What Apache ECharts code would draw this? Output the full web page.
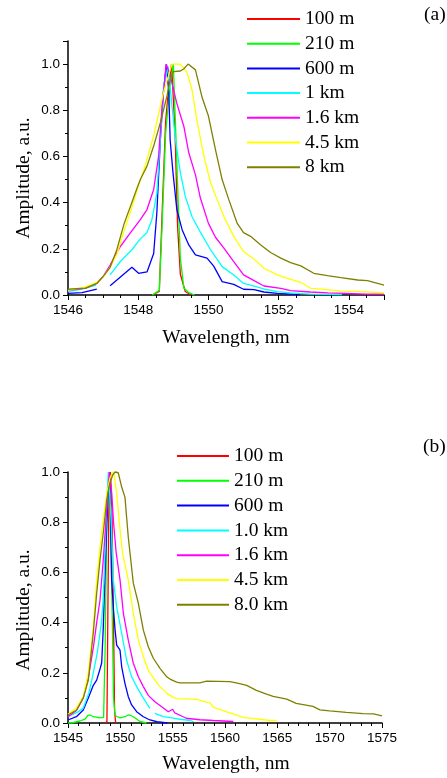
<!DOCTYPE html>
<html>
<head>
<meta charset="utf-8">
<script src="https://cdn.jsdelivr.net/npm/echarts@6/dist/echarts.min.js"></script>
<style>html,body{margin:0;padding:0;background:#fff;}#c{width:447px;height:778px;}</style>
</head>
<body>
<div id="c"></div>
<script>
// ---------- Panel (a) ----------
const aNames = ['100 m','210 m','600 m','1 km','1.6 km','4.5 km','8 km'];
const a_x_100m = [1548.4,1548.6,1548.68,1548.78,1548.88,1548.95,1549.05,1549.12,1549.2,1549.34,1549.5];
const a_y_100m = [0,0.015,0.35,0.75,0.92,1.0,0.7,0.3,0.09,0.015,0];
const a_x_210m = [1548.4,1548.6,1548.68,1548.78,1548.9,1549.0,1549.07,1549.14,1549.2,1549.3,1549.44,1549.6];
const a_y_210m = [0,0.02,0.3,0.7,0.9,1.0,0.7,0.4,0.16,0.03,0.01,0];
const a_x_600m = [1546,1546.4,1546.82,1547.0,1547.2,1547.82,1548.01,1548.25,1548.44,1548.53,1548.63,1548.72,1548.8,1548.87,1548.91,1548.99,1549.1,1549.25,1549.44,1549.63,1549.96,1550.15,1550.39,1550.72,1551.0,1551.3,1551.58,1551.96,1552.34,1552.6];
const a_y_600m = [0.007,0.01,0.025,null,0.04,0.12,0.094,0.1,0.18,0.355,0.67,0.88,1.0,0.88,0.67,0.53,0.37,0.283,0.217,0.174,0.16,0.125,0.058,0.046,0.025,0.023,0.013,0.007,0.004,0.002];
const a_x_1km = [1546,1546.4,1546.8,1547.0,1547.2,1547.49,1547.82,1548.06,1548.25,1548.39,1548.53,1548.63,1548.72,1548.85,1548.96,1549.06,1549.2,1549.34,1549.53,1549.77,1550.06,1550.39,1550.72,1551.0,1551.3,1551.58,1551.96,1552.34,1552.9,1553.8];
const a_y_1km = [0.015,0.025,0.043,null,0.087,0.145,0.196,0.243,0.271,0.326,0.44,0.674,0.9,0.99,0.82,0.674,0.53,0.427,0.34,0.272,0.196,0.123,0.087,0.05,0.038,0.026,0.015,0.009,0.004,0.002];
const a_x_16km = [1546,1546.5,1546.82,1547.0,1547.2,1547.49,1547.77,1548.06,1548.25,1548.44,1548.58,1548.68,1548.8,1548.91,1549.1,1549.3,1549.44,1549.63,1549.77,1550.0,1550.2,1550.44,1550.72,1551.0,1551.3,1551.58,1552.06,1552.34,1552.9,1553.4,1553.9,1554.5,1555];
const a_y_16km = [0.02,0.03,0.05,0.08,0.13,0.21,0.268,0.326,0.37,0.457,0.6,0.82,1.0,0.95,0.83,0.73,0.616,0.52,0.42,0.31,0.25,0.203,0.145,0.087,0.062,0.039,0.029,0.019,0.013,0.009,0.007,0.004,0.004];
const a_x_45km = [1546,1546.5,1546.9,1547.2,1547.4,1547.6,1547.8,1548.0,1548.2,1548.44,1548.72,1548.96,1549.2,1549.39,1549.53,1549.68,1549.87,1550.06,1550.25,1550.44,1550.72,1551.0,1551.3,1551.58,1551.96,1552.34,1552.63,1552.91,1553.3,1553.77,1554.4,1555];
const a_y_45km = [0.02,0.035,0.06,0.12,0.18,0.28,0.37,0.47,0.56,0.69,0.877,1.0,1.0,0.964,0.89,0.75,0.6,0.486,0.413,0.34,0.254,0.188,0.155,0.116,0.087,0.068,0.055,0.029,0.024,0.017,0.015,0.009];
const a_x_8km = [1546,1546.5,1546.82,1547.0,1547.2,1547.39,1547.6,1547.77,1547.96,1548.06,1548.25,1548.44,1548.63,1548.82,1548.91,1549.0,1549.2,1549.3,1549.42,1549.63,1549.82,1550.0,1550.2,1550.39,1550.58,1550.82,1551.0,1551.2,1551.49,1551.77,1552.06,1552.34,1552.63,1553.0,1553.39,1553.77,1554.25,1554.53,1555.0];
const a_y_8km = [0.025,0.03,0.05,0.08,0.12,0.196,0.31,0.38,0.46,0.5,0.558,0.645,0.746,0.862,0.935,0.967,0.97,0.98,1.0,0.975,0.855,0.775,0.63,0.5,0.413,0.31,0.27,0.254,0.217,0.184,0.16,0.14,0.126,0.094,0.084,0.075,0.065,0.062,0.043];

// ---------- Panel (b) ----------
const bNames = ['100 m','210 m','600 m','1.0 km','1.6 km','4.5 km','8.0 km'];
const b_x_100m = [1548.5,1548.72,1548.8,1548.9,1549.05,1549.2,1549.35,1549.45,1549.55];
const b_y_100m = [0,0.005,0.4,0.85,1.0,0.85,0.4,0.05,0];
const b_x_210m = [1545,1545.5,1546.15,1546.62,1546.9,1547.1,1547.42,1548.06,1548.4,1548.55,1548.7,1548.95,1549.2,1549.35,1549.5,1549.97,1550.44,1550.76,1551.0,1551.24,1551.88,1552.5];
const b_y_210m = [0,0.002,0.008,0.015,0.03,0.032,0.025,0.02,0.022,0.3,0.8,1.0,0.5,0.1,0.03,0.02,0.025,0.032,0.03,0.025,0.006,0];
const b_x_600m = [1545,1545.8,1546.46,1546.94,1547.42,1547.74,1548.06,1548.22,1548.37,1548.53,1548.7,1548.85,1548.95,1549.05,1549.17,1549.35,1549.5,1549.65,1549.97,1550.13,1550.44,1550.76,1551.08,1551.56,1552.2,1552.83,1553.5,1554.5];
const b_y_600m = [0.012,0.025,0.052,0.1,0.15,0.171,0.215,0.24,0.38,0.58,0.78,0.94,1.0,0.85,0.57,0.45,0.37,0.31,0.29,0.224,0.158,0.105,0.072,0.045,0.025,0.012,0.005,0];
const b_x_1km = [1545,1545.5,1546,1546.46,1547,1547.42,1547.8,1548.06,1548.22,1548.37,1548.55,1548.7,1548.85,1549.0,1549.15,1549.33,1549.65,1550.13,1550.6,1551.08,1551.56,1552.04,1552.52,1552.83,1553.05,1553.3,1554.1,1554.9,1555.7,1556.7,1557];
const b_y_1km = [0.025,0.035,0.045,0.06,0.12,0.2,0.28,0.36,0.41,0.5,0.7,0.88,1.0,0.9,0.78,0.57,0.463,0.357,0.25,0.184,0.145,0.11,0.078,0.058,null,0.038,0.025,0.02,0.015,0.01,0.005];
const b_x_16km = [1545,1545.8,1546.46,1546.94,1547.42,1547.74,1548.06,1548.37,1548.7,1548.95,1549.17,1549.35,1549.6,1549.97,1550.29,1550.76,1551.24,1551.72,1552.2,1552.67,1553.3,1553.95,1554.58,1555.0,1555.2,1556.0,1556.3,1557.6,1558.9,1560.8];
const b_y_16km = [0.025,0.05,0.1,0.18,0.3,0.4,0.49,0.65,0.85,1.0,0.92,0.8,0.68,0.57,0.437,0.33,0.238,0.184,0.145,0.11,0.085,0.065,0.045,0.055,0.04,0.025,0.019,0.013,0.01,0.006];
const b_x_45km = [1545,1545.8,1546.46,1546.94,1547.42,1547.74,1548.06,1548.37,1548.7,1549.0,1549.27,1549.4,1549.65,1549.9,1550.2,1550.5,1550.76,1551.24,1551.72,1552.2,1552.67,1553.3,1553.79,1554.43,1555.06,1555.4,1557.3,1557.9,1558.56,1558.9,1560.47,1561.75,1563.3,1564.3,1564.9];
const b_y_45km = [0.035,0.06,0.105,0.2,0.384,0.57,0.70,0.81,0.915,0.975,1.0,0.99,0.915,0.8,0.68,0.62,0.57,0.437,0.33,0.264,0.211,0.171,0.145,0.118,0.102,0.097,0.094,0.086,0.08,0.062,0.04,0.022,0.015,0.01,0.01];
const b_x_8km = [1545,1545.83,1546.46,1546.94,1547.42,1547.74,1548.06,1548.37,1548.7,1548.95,1549.27,1549.5,1549.8,1550.13,1550.44,1550.76,1551.24,1551.72,1552.2,1552.67,1553.15,1553.79,1554.43,1554.74,1555.38,1555.7,1557.6,1558.24,1560.47,1561.4,1562.07,1563.0,1563.97,1564.6,1565.9,1566.8,1568.4,1569.07,1570.0,1571.6,1573.2,1574.2,1575.0];
const b_y_8km = [0.032,0.052,0.1,0.17,0.36,0.517,0.65,0.757,0.888,0.948,0.988,1.0,0.997,0.94,0.9,0.74,0.557,0.477,0.37,0.304,0.258,0.218,0.184,0.175,0.163,0.16,0.16,0.167,0.165,0.157,0.15,0.13,0.115,0.106,0.095,0.078,0.066,0.052,0.048,0.042,0.037,0.036,0.028];

// tick labels
const aXTicks = [1546,1548,1550,1552,1554];
const aYTicks = ['0.0','0.2','0.4','0.6','0.8','1.0'];
const bXTicks = [1545,1550,1555,1560,1565,1570,1575];
const bYTicks = ['0.0','0.2','0.4','0.6','0.8','1.0'];

const colors = ['#FF0000','#00FF00','#0000FF','#00FFFF','#FF00FF','#FFFF00','#808000'];

const aX = [a_x_100m,a_x_210m,a_x_600m,a_x_1km,a_x_16km,a_x_45km,a_x_8km];
const aY = [a_y_100m,a_y_210m,a_y_600m,a_y_1km,a_y_16km,a_y_45km,a_y_8km];
const bX = [b_x_100m,b_x_210m,b_x_600m,b_x_1km,b_x_16km,b_x_45km,b_x_8km];
const bY = [b_y_100m,b_y_210m,b_y_600m,b_y_1km,b_y_16km,b_y_45km,b_y_8km];

function zip(xs, ys){ return xs.map((x,i)=>[x, ys[i]]); }

const series = [];
for (let i=0;i<7;i++){
  series.push({type:'line', name:aNames[i], xAxisIndex:0, yAxisIndex:0, data:zip(aX[i],aY[i]),
    symbol:'none', clip:false, connectNulls:false, lineStyle:{color:colors[i], width:1.3}, itemStyle:{color:colors[i]}, z:2+i});
}
for (let i=0;i<7;i++){
  series.push({type:'line', name:bNames[i], xAxisIndex:1, yAxisIndex:1, data:zip(bX[i],bY[i]),
    symbol:'none', clip:false, connectNulls:false, lineStyle:{color:colors[i], width:1.3}, itemStyle:{color:colors[i]}, z:2+i});
}

const axisLine = {show:true, onZero:false, lineStyle:{color:'#000', width:1.5}};
const tickStyle = {show:true, inside:false, length:5, lineStyle:{color:'#000', width:1}};
const minorTick = {show:true, length:3, lineStyle:{color:'#000', width:1}};
const lblFont = {fontFamily:'Liberation Sans, Arial, sans-serif', fontSize:13.5, color:'#000'};
const serif = 'Liberation Serif, Times New Roman, serif';

const legendText = {fontFamily:serif, fontSize:19.5, lineHeight:20, color:'#000'};

const option = {
  animation:false,
  backgroundColor:'#fff',
  grid:[
    {left:68, top:41, width:316, height:254, containLabel:false},
    {left:68, top:472, width:314, height:251, containLabel:false}
  ],
  xAxis:[
    {type:'value', gridIndex:0, min:1546, max:1555, interval:2, axisLine, axisTick:tickStyle,
     minorTick:Object.assign({splitNumber:4},minorTick), splitLine:{show:false},
     axisLabel:Object.assign({margin:8, showMaxLabel:false, formatter:v=>aXTicks.includes(v)?String(v):''},lblFont)},
    {type:'value', gridIndex:1, min:1545, max:1575, interval:5, axisLine, axisTick:tickStyle,
     minorTick:Object.assign({splitNumber:5},minorTick), splitLine:{show:false},
     axisLabel:Object.assign({margin:8, formatter:v=>bXTicks.includes(v)?String(v):''},lblFont)}
  ],
  yAxis:[
    {type:'value', gridIndex:0, min:0, max:1.1, interval:0.2, axisLine, axisTick:tickStyle,
     minorTick:Object.assign({splitNumber:2},minorTick), splitLine:{show:false},
     axisLabel:Object.assign({margin:8, showMaxLabel:false, formatter:v=>{const s=v.toFixed(1);return aYTicks.includes(s)&&v<=1.0001?s:'';}},lblFont)},
    {type:'value', gridIndex:1, min:0, max:1.0, interval:0.2, axisLine, axisTick:tickStyle,
     minorTick:Object.assign({splitNumber:2},minorTick), splitLine:{show:false},
     axisLabel:Object.assign({margin:8, formatter:v=>{const s=v.toFixed(1);return bYTicks.includes(s)?s:'';}},lblFont)}
  ],
  legend:[
    {orient:'vertical', left:242, top:4, icon:'rect', itemWidth:53, itemHeight:2, itemGap:4.7, data:aNames,
     textStyle:legendText, selectedMode:false},
    {orient:'vertical', left:172, top:441, icon:'rect', itemWidth:52, itemHeight:2, itemGap:4.8, data:bNames,
     textStyle:legendText, selectedMode:false}
  ],
  graphic:[
    {type:'text', left:424, top:5, style:{text:'(a)', font:'19.5px '+serif, fill:'#000'}},
    {type:'text', left:423, top:437, style:{text:'(b)', font:'19.5px '+serif, fill:'#000'}},
    {type:'text', x:226, y:338, style:{text:'Wavelength, nm', font:'19.5px '+serif, fill:'#000', textAlign:'center', textVerticalAlign:'middle'}},
    {type:'text', x:226, y:764, style:{text:'Wavelength, nm', font:'19.5px '+serif, fill:'#000', textAlign:'center', textVerticalAlign:'middle'}},
    {type:'text', x:24, y:178, rotation:Math.PI/2, style:{text:'Amplitude, a.u.', font:'19.5px '+serif, fill:'#000', textAlign:'center', textVerticalAlign:'middle'}},
    {type:'text', x:24, y:610, rotation:Math.PI/2, style:{text:'Amplitude, a.u.', font:'19.5px '+serif, fill:'#000', textAlign:'center', textVerticalAlign:'middle'}}
  ],
  series
};
const chart = echarts.init(document.getElementById('c'), null, {renderer:'canvas'});
chart.setOption(option);
</script>
</body>
</html>
